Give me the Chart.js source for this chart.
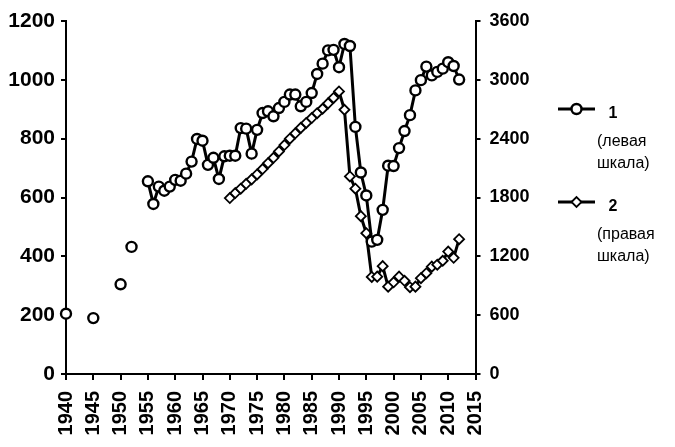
<!DOCTYPE html>
<html><head><meta charset="utf-8">
<script src="https://cdn.jsdelivr.net/npm/chart.js@4.4.1/dist/chart.umd.min.js"></script>
<style>html,body{margin:0;padding:0;background:#fff;}#wrap{width:675px;height:447px;position:relative}</style>
</head><body><div id="wrap"><canvas id="c"></canvas></div>
<script>
// Series 1 (left scale)
const years1 = [1940,1945,1950,1952,1955,1956,1957,1958,1959,1960,1961,1962,1963,1964,1965,1966,1967,1968,1969,1970,1971,1972,1973,1974,1975,1976,1977,1978,1979,1980,1981,1982,1983,1984,1985,1986,1987,1988,1989,1990,1991,1992,1993,1994,1995,1996,1997,1998,1999,2000,2001,2002,2003,2004,2005,2006,2007,2008,2009,2010,2011,2012];
const values1 = [205,190,305,432,655,578,637,623,637,660,657,681,722,799,793,711,735,663,740,742,742,836,834,749,830,887,893,876,904,925,950,950,910,925,955,1020,1055,1100,1102,1043,1122,1115,840,685,607,450,456,558,708,707,768,826,880,964,999,1045,1015,1027,1038,1060,1047,1001];
// Series 2 (right scale)
const years2 = [1970,1971,1972,1973,1974,1975,1976,1977,1978,1979,1980,1981,1982,1983,1984,1985,1986,1987,1988,1989,1990,1991,1992,1993,1994,1995,1996,1997,1998,1999,2000,2001,2002,2003,2004,2005,2006,2007,2008,2009,2010,2011,2012];
const values2 = [1794,1845,1890,1940,1985,2035,2090,2150,2205,2270,2335,2400,2455,2510,2560,2610,2660,2705,2760,2815,2882,2695,2015,1890,1610,1436,990,993,1100,891,935,993,950,885,891,977,1028,1095,1115,1155,1249,1185,1375];
// Tick labels
const xTicks = [1940,1945,1950,1955,1960,1965,1970,1975,1980,1985,1990,1995,2000,2005,2010,2015];
const leftTicks = [0,200,400,600,800,1000,1200];
const rightTicks = [0,600,1200,1800,2400,3000,3600];
// Legend
const seriesNames = ['1','2'];
const legendNotes = [['(левая','шкала)'],['(правая','шкала)']];

const toXY = (xs, ys) => xs.map((x,i)=>({x:x, y:ys[i]}));
const BLACK = '#000';
const FAMILY = '"Liberation Sans", Arial, sans-serif';

const sideLegend = {
  id:'sideLegend',
  afterDraw(chart){
    const ctx = chart.ctx, ca = chart.chartArea;
    const styles = [
      {pointStyle:'circle', radius:5, borderWidth:2.4, dy:88},
      {pointStyle:'rectRot', radius:5, borderWidth:1.8, dy:181}
    ];
    ctx.save();
    styles.forEach((s,i)=>{
      const y = ca.top + s.dy;
      const x0 = ca.right + 82.5, x1 = ca.right + 119.5, xm = (x0+x1)/2;
      ctx.strokeStyle = BLACK; ctx.lineWidth = 3;
      ctx.beginPath(); ctx.moveTo(x0,y); ctx.lineTo(x1,y); ctx.stroke();
      ctx.fillStyle = '#fff'; ctx.strokeStyle = BLACK; ctx.lineWidth = s.borderWidth;
      Chart.helpers.drawPoint(ctx, {pointStyle:s.pointStyle, radius:s.radius, borderWidth:s.borderWidth, rotation:0}, xm, y);
      ctx.fillStyle = BLACK;
      ctx.font = 'bold 16px ' + FAMILY;
      ctx.textBaseline = 'middle'; ctx.textAlign = 'left';
      ctx.fillText(seriesNames[i], ca.right + 133, y + 5);
      legendNotes[i].forEach((t,j)=>{
        ctx.font = '16px ' + FAMILY;
        ctx.fillText(t, ca.right + 121.5, y + 33 + j*22);
      });
    });
    ctx.restore();
  }
};

const setTicks = arr => scale => { scale.ticks = arr.map(v=>({value:v})); };
const gridCfg = {drawOnChartArea:false, drawTicks:true, tickLength:5, color:BLACK, lineWidth:2};
const borderCfg = {display:true, color:BLACK, width:2};
const plain = v => String(v);

new Chart(document.getElementById('c'), {
  type:'line',
  data:{
    datasets:[
      {
        label:seriesNames[0], data:toXY(years1, values1), yAxisID:'yL',
        borderColor:BLACK, borderWidth:3, pointStyle:'circle', pointRadius:5,
        pointBorderWidth:2.4, pointBackgroundColor:'#fff', pointBorderColor:BLACK,
        tension:0, clip:false,
        segment:{borderColor: c => (c.p1.parsed.x - c.p0.parsed.x > 1.5) ? 'rgba(0,0,0,0)' : BLACK}
      },
      {
        label:seriesNames[1], data:toXY(years2, values2), yAxisID:'yR',
        borderColor:BLACK, borderWidth:3, pointStyle:'rectRot', pointRadius:5,
        pointBorderWidth:1.8, pointBackgroundColor:'#fff', pointBorderColor:BLACK,
        tension:0, clip:false
      }
    ]
  },
  options:{
    responsive:true, maintainAspectRatio:false, animation:false, devicePixelRatio:1,
    layout:{padding:{top:21, right:130, bottom:0, left:0}},
    plugins:{legend:{display:false}, tooltip:{enabled:false}},
    scales:{
      x:{
        type:'linear', min:1940, max:2015,
        afterBuildTicks:setTicks(xTicks),
        afterFit: s => { s.height = 73; },
        grid:{...gridCfg, tickLength:6}, border:borderCfg,
        ticks:{autoSkip:false, minRotation:90, maxRotation:90, padding:11, color:BLACK,
          font:{family:FAMILY, size:20, weight:'bold'}, callback:plain}
      },
      yL:{
        type:'linear', position:'left', min:0, max:1200,
        afterBuildTicks:setTicks(leftTicks),
        afterFit: s => { s.width = 66; },
        grid:gridCfg, border:borderCfg,
        ticks:{padding:6, color:BLACK, font:{family:FAMILY, size:21, weight:'bold'}, callback:plain}
      },
      yR:{
        type:'linear', position:'right', min:0, max:3600,
        afterBuildTicks:setTicks(rightTicks),
        afterFit: s => { s.width = 69.5; },
        grid:gridCfg, border:borderCfg,
        ticks:{padding:9, color:BLACK, font:{family:FAMILY, size:18, weight:'bold'}, callback:plain}
      }
    }
  },
  plugins:[sideLegend]
});
</script>
</body></html>
